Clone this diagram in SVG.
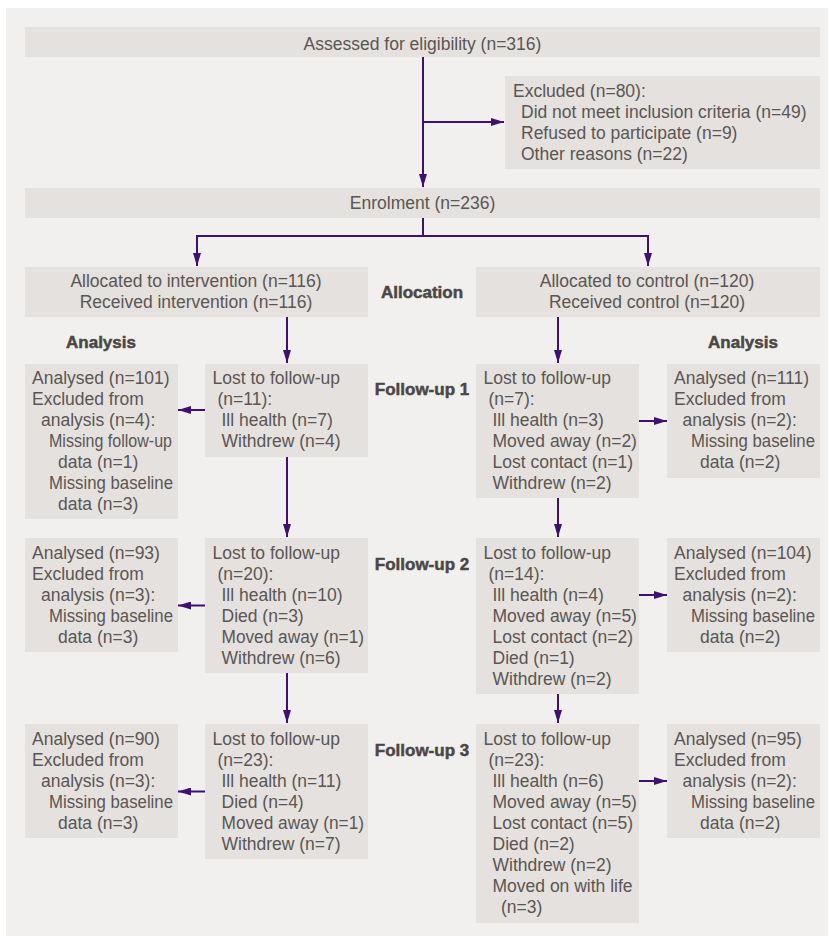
<svg xmlns="http://www.w3.org/2000/svg" width="829" height="936" viewBox="0 0 829 936">
<style>
.bg{fill:#f1f0ee}
.box{fill:#e5e1de}
text{font-family:"Liberation Sans",Arial,sans-serif;font-size:17.5px;fill:#5a5654}
.c{text-anchor:middle}
.b{font-weight:bold;font-size:17px;fill:#4b4746;stroke:#4b4746;stroke-width:0.5}
.ln{stroke:#3f0f72;stroke-width:2;fill:none}
.ar{marker-end:url(#ah)}
</style>
<defs>
<marker id="ah" viewBox="0 0 13 8" refX="13" refY="4" markerWidth="13" markerHeight="8" markerUnits="userSpaceOnUse" orient="auto">
<path d="M0,0 L13,4 L0,8 z" fill="#3f0f72"/>
</marker>
</defs>
<rect x="0" y="0" width="829" height="936" fill="#ffffff"/>
<rect class="bg" x="6" y="8" width="822" height="928"/>

<g id="assessed">
<rect class="box" x="25" y="27" width="795" height="30"/>
<text class="c" x="422.5" y="49.5">Assessed for eligibility (n=316)</text>
</g>
<g id="excluded">
<rect class="box" x="505" y="76" width="315" height="93"/>
<text x="513" y="97">Excluded (n=80):</text>
<text x="521" y="118">Did not meet inclusion criteria (n=49)</text>
<text x="521" y="139">Refused to participate (n=9)</text>
<text x="521" y="160">Other reasons (n=22)</text>
</g>
<g id="enrolment">
<rect class="box" x="25" y="188" width="795" height="30"/>
<text class="c" x="422.5" y="208.5">Enrolment (n=236)</text>
</g>
<g id="alloc-int">
<rect class="box" x="25" y="267" width="343" height="50"/>
<text class="c" x="196" y="287">Allocated to intervention (n=116)</text>
<text class="c" x="196" y="308">Received intervention (n=116)</text>
</g>
<g id="alloc-ctl">
<rect class="box" x="476" y="267" width="344" height="50"/>
<text class="c" x="647" y="287">Allocated to control (n=120)</text>
<text class="c" x="647" y="308">Received control (n=120)</text>
</g>
<g id="labels">
<text class="b c" x="422" y="298">Allocation</text>
<text class="b c" x="101" y="348">Analysis</text>
<text class="b c" x="743" y="348">Analysis</text>
<text class="b c" x="422" y="395">Follow-up 1</text>
<text class="b c" x="422" y="570">Follow-up 2</text>
<text class="b c" x="422" y="756">Follow-up 3</text>
</g>

<g id="fu1-int-analysis">
<rect class="box" x="25" y="364" width="153" height="155"/>
<text x="32" y="383.5">Analysed (n=101)</text>
<text x="32" y="404.5">Excluded from</text>
<text x="41" y="425.5">analysis (n=4):</text>
<text x="49" y="446.5" textLength="123" lengthAdjust="spacingAndGlyphs">Missing follow-up</text>
<text x="58" y="467.5">data (n=1)</text>
<text x="49" y="488.5" textLength="124" lengthAdjust="spacingAndGlyphs">Missing baseline</text>
<text x="58" y="509.5">data (n=3)</text>
</g>
<g id="fu1-int-lost">
<rect class="box" x="205" y="364" width="163" height="93"/>
<text x="212.5" y="383.5">Lost to follow-up</text>
<text x="217.5" y="404.5">(n=11):</text>
<text x="221.5" y="425.5">Ill health (n=7)</text>
<text x="221.5" y="446.5">Withdrew (n=4)</text>
</g>
<g id="fu1-ctl-lost">
<rect class="box" x="476" y="364" width="163" height="134"/>
<text x="483.5" y="383.5">Lost to follow-up</text>
<text x="488.5" y="404.5">(n=7):</text>
<text x="492.5" y="425.5">Ill health (n=3)</text>
<text x="492.5" y="446.5">Moved away (n=2)</text>
<text x="492.5" y="467.5">Lost contact (n=1)</text>
<text x="492.5" y="488.5">Withdrew (n=2)</text>
</g>
<g id="fu1-ctl-analysis">
<rect class="box" x="667" y="364" width="153" height="114"/>
<text x="674" y="383.5">Analysed (n=111)</text>
<text x="674" y="404.5">Excluded from</text>
<text x="682.5" y="425.5">analysis (n=2):</text>
<text x="691" y="446.5" textLength="124" lengthAdjust="spacingAndGlyphs">Missing baseline</text>
<text x="700" y="467.5">data (n=2)</text>
</g>

<g id="fu2-int-analysis">
<rect class="box" x="25" y="538" width="153" height="114"/>
<text x="32" y="559">Analysed (n=93)</text>
<text x="32" y="580">Excluded from</text>
<text x="41" y="601">analysis (n=3):</text>
<text x="49" y="622" textLength="124" lengthAdjust="spacingAndGlyphs">Missing baseline</text>
<text x="58" y="643">data (n=3)</text>
</g>
<g id="fu2-int-lost">
<rect class="box" x="205" y="538" width="163" height="135"/>
<text x="212.5" y="559">Lost to follow-up</text>
<text x="217.5" y="580">(n=20):</text>
<text x="221.5" y="601">Ill health (n=10)</text>
<text x="221.5" y="622">Died (n=3)</text>
<text x="221.5" y="643" textLength="142.5" lengthAdjust="spacingAndGlyphs">Moved away (n=1)</text>
<text x="221.5" y="664">Withdrew (n=6)</text>
</g>
<g id="fu2-ctl-lost">
<rect class="box" x="476" y="538" width="163" height="156"/>
<text x="483.5" y="559">Lost to follow-up</text>
<text x="488.5" y="580">(n=14):</text>
<text x="492.5" y="601">Ill health (n=4)</text>
<text x="492.5" y="622">Moved away (n=5)</text>
<text x="492.5" y="643">Lost contact (n=2)</text>
<text x="492.5" y="664">Died (n=1)</text>
<text x="492.5" y="685">Withdrew (n=2)</text>
</g>
<g id="fu2-ctl-analysis">
<rect class="box" x="667" y="538" width="153" height="114"/>
<text x="674" y="559">Analysed (n=104)</text>
<text x="674" y="580">Excluded from</text>
<text x="682.5" y="601">analysis (n=2):</text>
<text x="691" y="622" textLength="124" lengthAdjust="spacingAndGlyphs">Missing baseline</text>
<text x="700" y="643">data (n=2)</text>
</g>

<g id="fu3-int-analysis">
<rect class="box" x="25" y="724" width="153" height="114"/>
<text x="32" y="745">Analysed (n=90)</text>
<text x="32" y="766">Excluded from</text>
<text x="41" y="787">analysis (n=3):</text>
<text x="49" y="808" textLength="124" lengthAdjust="spacingAndGlyphs">Missing baseline</text>
<text x="58" y="829">data (n=3)</text>
</g>
<g id="fu3-int-lost">
<rect class="box" x="205" y="724" width="163" height="135"/>
<text x="212.5" y="745">Lost to follow-up</text>
<text x="217.5" y="766">(n=23):</text>
<text x="221.5" y="787">Ill health (n=11)</text>
<text x="221.5" y="808">Died (n=4)</text>
<text x="221.5" y="829" textLength="142.5" lengthAdjust="spacingAndGlyphs">Moved away (n=1)</text>
<text x="221.5" y="850">Withdrew (n=7)</text>
</g>
<g id="fu3-ctl-lost">
<rect class="box" x="476" y="724" width="163" height="199"/>
<text x="483.5" y="745">Lost to follow-up</text>
<text x="488.5" y="766">(n=23):</text>
<text x="492.5" y="787">Ill health (n=6)</text>
<text x="492.5" y="808">Moved away (n=5)</text>
<text x="492.5" y="829">Lost contact (n=5)</text>
<text x="492.5" y="850">Died (n=2)</text>
<text x="492.5" y="871">Withdrew (n=2)</text>
<text x="492.5" y="892">Moved on with life</text>
<text x="501" y="913">(n=3)</text>
</g>
<g id="fu3-ctl-analysis">
<rect class="box" x="667" y="724" width="153" height="114"/>
<text x="674" y="745">Analysed (n=95)</text>
<text x="674" y="766">Excluded from</text>
<text x="682.5" y="787">analysis (n=2):</text>
<text x="691" y="808" textLength="124" lengthAdjust="spacingAndGlyphs">Missing baseline</text>
<text x="700" y="829">data (n=2)</text>
</g>

<g id="connectors">
<path class="ln ar" d="M423,57 V187"/>
<path class="ln ar" d="M423,122 H504"/>
<path class="ln" d="M423,218 V236 M196,236 H648"/>
<path class="ln ar" d="M197,235 V266"/>
<path class="ln ar" d="M648,235 V266"/>
<path class="ln ar" d="M287,317 V363"/>
<path class="ln ar" d="M558,317 V363"/>
<path class="ln ar" d="M205,410 H178"/>
<path class="ln ar" d="M639,421 H667"/>
<path class="ln ar" d="M287,457 V537"/>
<path class="ln ar" d="M558,498 V537"/>
<path class="ln ar" d="M205,605.5 H178"/>
<path class="ln ar" d="M639,595 H667"/>
<path class="ln ar" d="M287,673 V723"/>
<path class="ln ar" d="M558,694 V723"/>
<path class="ln ar" d="M205,791.5 H178"/>
<path class="ln ar" d="M639,781 H667"/>
</g>
</svg>
